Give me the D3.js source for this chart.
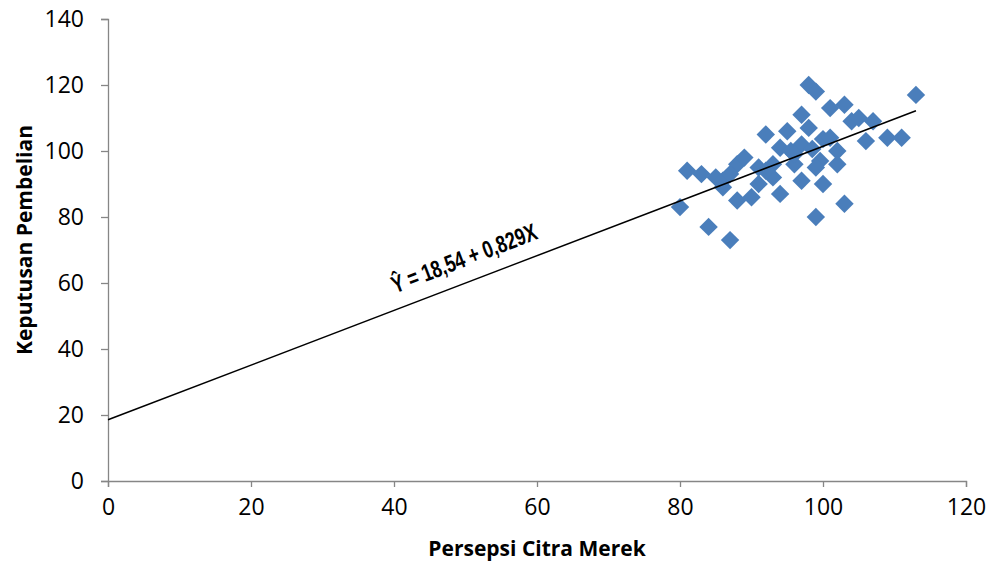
<!DOCTYPE html>
<html><head><meta charset="utf-8">
<script src="https://cdn.jsdelivr.net/npm/d3@7"></script>
<style>body{margin:0;background:#fff}</style>
</head><body>
<svg id="c" width="992" height="563"></svg>
<script>
const xTicks = [0,20,40,60,80,100,120];
const yTicks = [0,20,40,60,80,100,120,140];
const citra = [80,81,83,84,85,86,86,87,88,88,89,90,91,91,92,93,93,94,94,95,95.5,96,97,97,97,98,98,98.5,99,99,99.6,100,100,101,101,102,102,103,103,104,105,106,107,109,111,113,92,87,96,99];
const keputusan = [83,94,93,77,92,89,91,73,85,96,98,86,90,95,105,96,92,101,87,106,100,96,102,111,91,120,107,100.6,118,80,97,90,103.6,113,104,96,100,84,114,109,110,103,109,104,104,117,94,93,99,95];
const intercept = 18.54, slope = 0.829;
const lineX = [0,113];
const eqText = "Ŷ = 18,54 + 0,829X";

const svg = d3.select("#c");
const x = d3.scaleLinear().domain([0,120]).range([108,966]);
const y = d3.scaleLinear().domain([0,140]).range([481,19]);
const font = "'Open Sans', sans-serif";

const xa = svg.append("g").attr("transform","translate(0,481)")
  .call(d3.axisBottom(x).tickValues(xTicks).tickSizeOuter(0).tickSize(6).tickPadding(12));
const ya = svg.append("g").attr("transform","translate(108,0)")
  .call(d3.axisLeft(y).tickValues(yTicks).tickSizeOuter(0).tickSize(7).tickPadding(17));
[xa,ya].forEach(a=>{
  a.selectAll("path,line").attr("stroke","#868686").attr("stroke-width",1.3);
  a.selectAll("text").attr("fill","#000").style("font-family",font).style("font-size","23px");
});

const pts = citra.map((v,i)=>[v,keputusan[i]]);
svg.append("g").selectAll("path").data(pts).join("path")
  .attr("d", d3.symbol(d3.symbolSquare, 170))
  .attr("transform", d=>`translate(${x(d[0])},${y(d[1])}) rotate(45)`)
  .attr("fill","#4a7ebb");

svg.append("line")
  .attr("x1",x(lineX[0])).attr("y1",y(intercept+slope*lineX[0]))
  .attr("x2",x(lineX[1])).attr("y2",y(intercept+slope*lineX[1]))
  .attr("stroke","#000").attr("stroke-width",1.5);

const ang = -Math.atan((slope*(y(0)-y(1)))/(x(1)-x(0)))*180/Math.PI;
svg.append("text").attr("transform",`translate(467,266) rotate(${ang}) scale(0.85,1.15)`)
  .attr("text-anchor","middle")
  .style("font-family","'Liberation Sans','Open Sans',sans-serif")
  .style("font-weight","bold").style("font-size","21px").text(eqText);

svg.append("text").attr("x",537).attr("y",556).attr("text-anchor","middle")
  .style("font-family",font).style("font-weight","bold").style("font-size","21px")
  .text("Persepsi Citra Merek");
svg.append("text").attr("transform","translate(32,240) rotate(-90)").attr("text-anchor","middle")
  .style("font-family",font).style("font-weight","bold").style("font-size","21px")
  .text("Keputusan Pembelian");
</script>
</body></html>
